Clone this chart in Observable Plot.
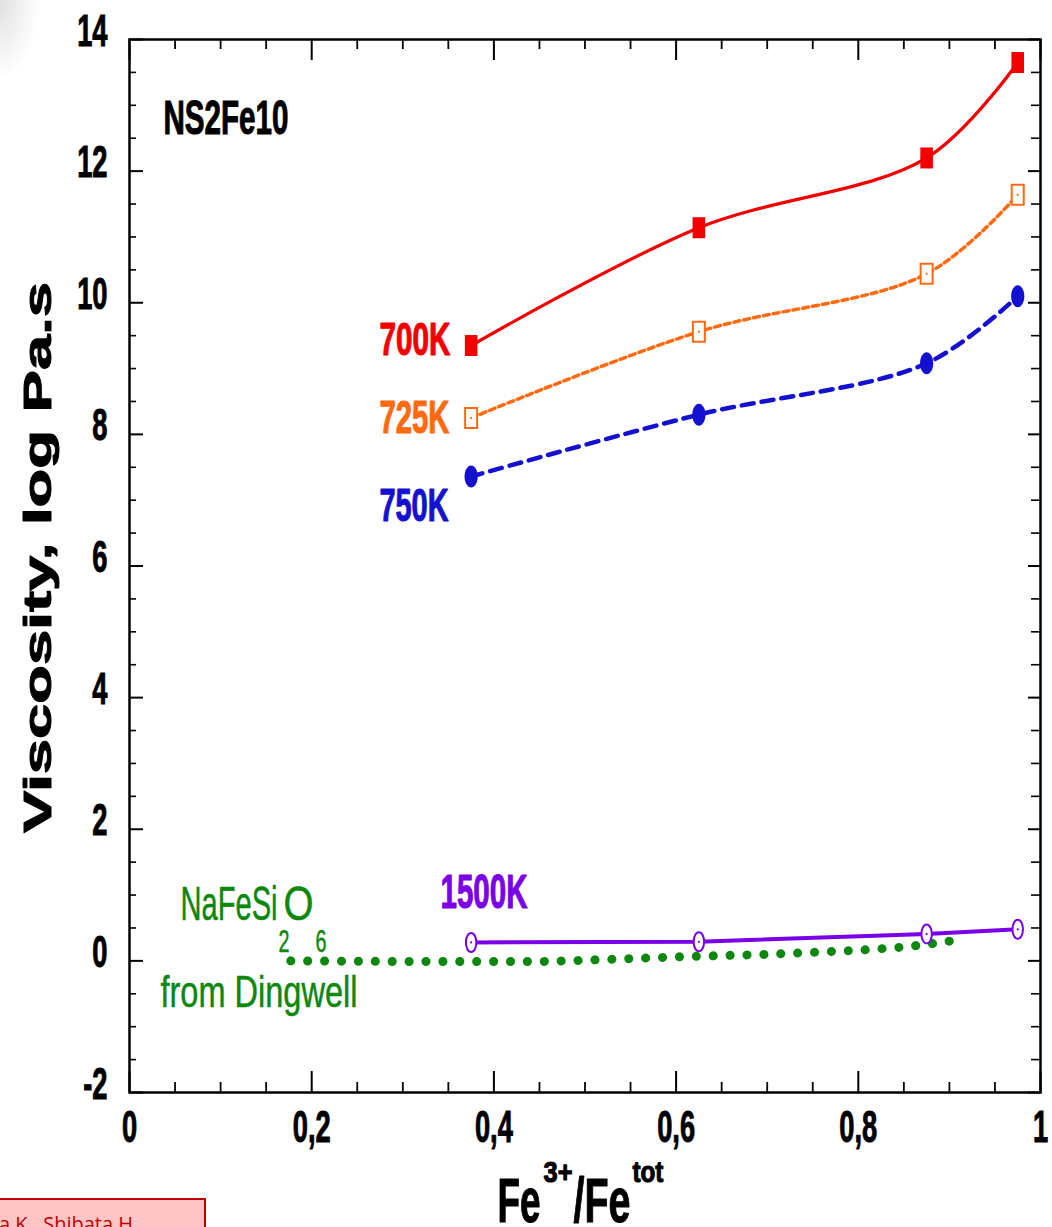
<!DOCTYPE html>
<html>
<head>
<meta charset="utf-8">
<script src="https://cdn.jsdelivr.net/npm/d3@7"></script>
<script src="https://cdn.jsdelivr.net/npm/@observablehq/plot@0.6"></script>
<style>
  html, body { margin: 0; padding: 0; background: #fff; overflow: hidden; }
  #wrap { position: relative; width: 1052px; height: 1227px; }
  #corner { position: absolute; left: 0; top: 0; width: 40px; height: 80px;
    background: radial-gradient(ellipse at 0 0, rgba(0,0,0,0.12), rgba(0,0,0,0) 70%); }
  #credit { position: absolute; left: -3px; top: 1198px; width: 209px; height: 40px;
    background: #ffc4c4; border: 2px solid #c00000; box-sizing: border-box;
    font-family: "Open Sans", "Liberation Sans", sans-serif; font-size: 20px; line-height: 20px;
    color: #c00000; padding-top: 14px; padding-left: 0; white-space: nowrap; overflow: hidden; }
</style>
</head>
<body>
<div id="wrap"><div id="corner"></div><div id="credit">a K., Shibata H.</div></div>
<script>
// ---- data ----
const feRatio = [0.375, 0.625, 0.875, 0.975];          // Fe3+/Fetot of the samples
const visc700 = [9.35, 11.14, 12.2, 13.65];             // 700K, log Pa.s
const visc725 = [8.25, 9.56, 10.44, 11.64];             // 725K
const visc750 = [7.36, 8.30, 9.08, 10.1];               // 750K
const visc1500 = [0.28, 0.29, 0.41, 0.48];              // 1500K
const dingwellX = [0.177, 0.3, 0.45, 0.5, 0.6, 0.7, 0.8, 0.85, 0.88, 0.91];  // NaFeSi2O6 (Dingwell)
const dingwellY = [0, -0.01, -0.01, 0.01, 0.06, 0.10, 0.16, 0.21, 0.26, 0.32];
const xMajor = [0, 0.2, 0.4, 0.6, 0.8, 1];
const xTickLabels = ["0", "0,2", "0,4", "0,6", "0,8", "1"];
const xMinor = [0.05, 0.1, 0.15, 0.25, 0.3, 0.35, 0.45, 0.5, 0.55, 0.65, 0.7, 0.75, 0.85, 0.9, 0.95];
const yMajor = [-2, 0, 2, 4, 6, 8, 10, 12, 14];
const yMinor = d3.range(-1.5, 14, 0.5).filter(v => v % 2 !== 0);

// ---- layout ----
const W = 1052, H = 1227, mL = 129, mR = 12, mT = 39, mB = 135;
const pxX = (W - mL - mR) / 1;      // px per x unit
const pxY = (H - mT - mB) / 16;     // px per y unit
const lenX = px => px / pxX, lenY = px => px / pxY;

const C = {red: "#f20000", orange: "#ff6a10", blue: "#1410d0", purple: "#7a00e8", green: "#0d870d"};
const FONT = '"Liberation Sans", Arial, sans-serif';

const series = (ys) => feRatio.map((x, i) => ({x, y: ys[i]}));
const s700 = series(visc700), s725 = series(visc725), s750 = series(visc750), s1500 = series(visc1500);
const dingwell = dingwellX.map((x, i) => ({x, y: dingwellY[i]}));

// custom marker shapes (tall rectangle, tall ellipse)
const tallRect = {draw(ctx, size) { const r = Math.sqrt(size / Math.PI); ctx.rect(-0.6 * r, -r, 1.2 * r, 2 * r); }};
const tallEllipse = (f) => ({draw(ctx, size) {
  const r = Math.sqrt(size / Math.PI), rx = f * r, ry = r, k = 0.5523;
  ctx.moveTo(rx, 0);
  ctx.bezierCurveTo(rx, ry * k, rx * k, ry, 0, ry);
  ctx.bezierCurveTo(-rx * k, ry, -rx, ry * k, -rx, 0);
  ctx.bezierCurveTo(-rx, -ry * k, -rx * k, -ry, 0, -ry);
  ctx.bezierCurveTo(rx * k, -ry, rx, -ry * k, rx, 0);
  ctx.closePath();
}});

// text label helper: heavy labels get a thin outline of their own colour
const lab = (text, x, y, opts) => Plot.text([text], {x: () => x, y: () => y, text: d => d,
  textAnchor: "start", lineAnchor: "bottom", fontFamily: FONT,
  stroke: opts.fill, strokeWidth: opts.fontWeight === "bold" ? 1.1 : 0.5, ...opts});

const plot = Plot.plot({
  width: W, height: H, marginLeft: mL, marginRight: mR, marginTop: mT, marginBottom: mB,
  x: {domain: [0, 1]},
  y: {domain: [-2, 14]},
  style: {fontFamily: FONT, color: "black", background: "transparent"},
  marks: [
    // ticks pointing inward on all four sides
    Plot.ruleX(xMajor, {x: d => d, y1: -2, y2: -2 + lenY(21), stroke: "black", strokeWidth: 2}),
    Plot.ruleX(xMinor, {x: d => d, y1: -2, y2: -2 + lenY(10), stroke: "black", strokeWidth: 1.8}),
    Plot.ruleX(xMajor, {x: d => d, y1: 14, y2: 14 - lenY(21), stroke: "black", strokeWidth: 2}),
    Plot.ruleX(xMinor, {x: d => d, y1: 14, y2: 14 - lenY(10), stroke: "black", strokeWidth: 1.8}),
    Plot.ruleY(yMajor, {y: d => d, x1: 0, x2: lenX(14), stroke: "black", strokeWidth: 2}),
    Plot.ruleY(yMinor, {y: d => d, x1: 0, x2: lenX(7), stroke: "black", strokeWidth: 1.6}),
    Plot.ruleY(yMajor, {y: d => d, x1: 1, x2: 1 - lenX(12), stroke: "black", strokeWidth: 2}),
    Plot.ruleY(yMinor, {y: d => d, x1: 1, x2: 1 - lenX(9), stroke: "black", strokeWidth: 1.6}),
    Plot.frame({stroke: "black", strokeWidth: 2.5}),

    Plot.axisX({ticks: xMajor, tickSize: 0, tickPadding: 18, tickFormat: d => xTickLabels[xMajor.indexOf(d)],
      fontSize: 44, fontWeight: "bold", fontFamily: FONT, label: null}),
    Plot.axisY({ticks: yMajor, tickSize: 0, tickPadding: 22, tickFormat: d => String(d), dy: -8,
      fontSize: 44, fontWeight: "bold", fontFamily: FONT, label: null}),

    // Dingwell NaFeSi2O6 dotted line
    Plot.line(dingwell, {x: "x", y: "y", stroke: C.green, strokeWidth: 9, strokeDasharray: "0.1 16.8", strokeLinecap: "round"}),
    // data curves
    Plot.line(s700, {x: "x", y: "y", stroke: C.red, strokeWidth: 3.2, curve: "catmull-rom"}),
    Plot.line(s725, {x: "x", y: "y", stroke: C.orange, strokeWidth: 3.5, strokeDasharray: "6 4", curve: "catmull-rom"}),
    Plot.line(s750, {x: "x", y: "y", stroke: C.blue, strokeWidth: 4.5, strokeDasharray: "12 8", curve: "catmull-rom"}),
    Plot.line(s1500, {x: "x", y: "y", stroke: C.purple, strokeWidth: 4}),
    // markers
    Plot.dot(s700, {x: "x", y: "y", r: 10.5, symbol: tallRect, fill: C.red, stroke: "none"}),
    Plot.dot(s725, {x: "x", y: "y", r: 10, symbol: tallRect, fill: "white", stroke: C.orange, strokeWidth: 2}),
    Plot.dot(s725, {x: "x", y: "y", r: 1.1, fill: C.orange}),
    Plot.dot(s750, {x: "x", y: "y", r: 11, symbol: tallEllipse(0.6), fill: C.blue, stroke: "none"}),
    Plot.dot(s1500, {x: "x", y: "y", r: 9.5, symbol: tallEllipse(0.55), fill: "white", stroke: C.purple, strokeWidth: 2}),
    Plot.dot(s1500, {x: "x", y: "y", r: 1.1, fill: C.purple}),

    // annotations
    lab("NS2Fe10", 0.0373, 12.57, {fontSize: 49, fontWeight: "bold", fill: "black"}),
    lab("700K", 0.2744, 9.20, {fontSize: 46, fontWeight: "bold", fill: C.red}),
    lab("725K", 0.2744, 8.014, {fontSize: 47, fontWeight: "bold", fill: C.orange}),
    lab("750K", 0.2744, 6.69, {fontSize: 46, fontWeight: "bold", fill: C.blue}),
    lab("1500K", 0.3414, 0.80, {fontSize: 49, fontWeight: "bold", fill: C.purple}),
    lab("NaFeSi", 0.056, 0.614, {fontSize: 49, fill: C.green}),
    lab("O", 0.169, 0.614, {fontSize: 49, fill: C.green}),
    lab("2", 0.1636, 0.128, {fontSize: 31, fill: C.green}),
    lab("6", 0.2042, 0.128, {fontSize: 31, fill: C.green}),
    lab("from Dingwell", 0.034, -0.708, {fontSize: 45, fill: C.green}),

    // axis titles
    lab("Fe", 0.404, -3.975, {fontSize: 63, fontWeight: "bold", fill: "black"}),
    lab("3+", 0.4545, -3.367, {fontSize: 30, fontWeight: "bold", fill: "black"}),
    lab("/Fe", 0.4874, -3.975, {fontSize: 63, fontWeight: "bold", fill: "black"}),
    lab("tot", 0.5521, -3.367, {fontSize: 30, fontWeight: "bold", fill: "black"}),
    Plot.text(["Viscosity, log Pa.s"], {x: () => -0.0867, y: () => 6.13, text: d => d, rotate: -90,
      textAnchor: "middle", lineAnchor: "bottom", fontSize: 38, fontWeight: "bold", fontFamily: FONT,
      fill: "black", stroke: "black", strokeWidth: 1})
  ]
});

const wrap = document.getElementById("wrap");
wrap.insertBefore(plot, wrap.firstChild);
plot.style.position = "absolute";
plot.style.left = "0px";
plot.style.top = "0px";

// condense the tall, narrow lettering of the original
const widths = {"NS2Fe10": 125, "700K": 71, "725K": 70, "750K": 69, "1500K": 87, "NaFeSi": 97, "O": 30,
  "2": 11, "6": 11, "from Dingwell": 197, "Fe": 43, "3+": 29, "/Fe": 57, "tot": 31, "Viscosity, log Pa.s": 551};
plot.querySelectorAll("text").forEach(t => {
  const g = t.closest("g");
  const al = g ? (g.getAttribute("aria-label") || "") : "";
  let w = null;
  if (al.includes("tick label")) {
    w = t.getComputedTextLength() * 0.62;
    t.setAttribute("stroke", "black"); t.setAttribute("stroke-width", "1");
  } else if (widths[t.textContent] != null) w = widths[t.textContent];
  if (w != null) { t.setAttribute("textLength", w); t.setAttribute("lengthAdjust", "spacingAndGlyphs"); }
});
</script>
</body>
</html>
